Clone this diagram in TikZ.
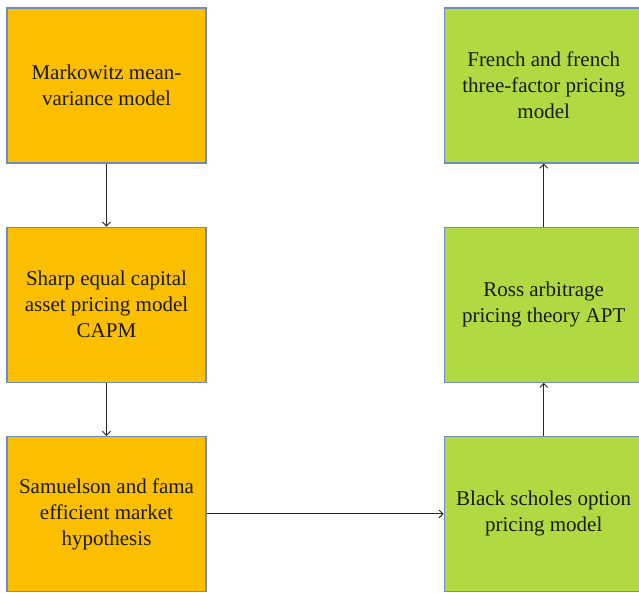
\documentclass[tikz,border=0pt]{standalone}
\usepackage{fontspec}
\setmainfont{Liberation Serif}
\usepackage{xcolor}
\usetikzlibrary{arrows.meta,positioning}

\definecolor{boxedge}{HTML}{6E8DBE}
\definecolor{theoryorange}{HTML}{FBBF00}
\definecolor{theorygreen}{HTML}{B1D942}

\begin{document}
\begin{tikzpicture}[
  x=1pt, y=-1pt,
  box/.style={rectangle, draw=boxedge, line width=1.2pt, minimum width=199pt, minimum height=155pt,
              inner sep=0pt, align=center, font=\rmfamily\fontsize{21}{26}\selectfont, text=black!90},
  early/.style={box, fill=theoryorange},
  later/.style={box, fill=theorygreen},
  arrow/.style={-{Straight Barb[length=4pt,width=8pt]}, line width=0.9pt, black!85},
]
\useasboundingbox (0,0) rectangle (639,592);

%% --- Left column ---
\node[early] (markowitz) at (106.5,85.5) {Markowitz mean-\\variance model};
\node[early, below=63pt of markowitz] (capm) {Sharp equal capital\\asset pricing model\\CAPM};
\node[early, below=53pt of capm] (emh) {Samuelson and fama\\efficient market\\hypothesis};

%% --- Right column ---
\node[later, right=237pt of emh] (bs) {Black scholes option\\pricing model};
\node[later, above=53pt of bs] (apt) {Ross arbitrage\\pricing theory APT};
\node[later, above=63pt of apt] (ff) {French and french\\three-factor pricing\\model};

%% --- Connectors ---
\draw[arrow] (markowitz) -- (capm);
\draw[arrow] (capm) -- (emh);
\draw[arrow] (emh) -- (bs);
\draw[arrow] (bs) -- (apt);
\draw[arrow] (apt) -- (ff);

\end{tikzpicture}
\end{document}
